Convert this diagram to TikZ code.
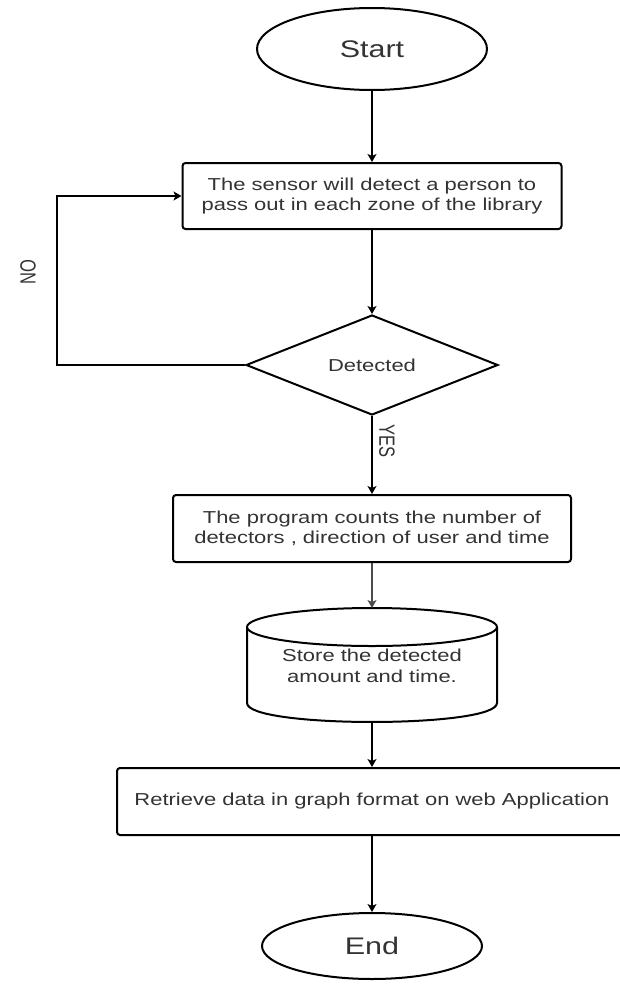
\documentclass[tikz,border=0pt]{standalone}
\usepackage{fontspec}
\setmainfont{Liberation Sans}[FakeStretch=1.27]
\newfontfamily\rotfont{Liberation Sans}[FakeStretch=0.75]
\usetikzlibrary{shapes.geometric,arrows.meta}
\definecolor{txt}{HTML}{333333}
\begin{document}
\begin{tikzpicture}[x=1pt,y=-1pt,
  shapeline/.style={draw=black,line width=2pt},
  procbox/.style={shapeline,rectangle,rounded corners=3pt,align=center,text=txt,
    font=\fontsize{17.3}{20.5}\selectfont,inner sep=0pt},
  term/.style={shapeline,ellipse,inner sep=0pt,text=txt,font=\fontsize{24}{28}\selectfont},
  flow/.style={line width=1.2pt,-{Stealth[length=8pt,width=9pt,inset=2pt]}},
  lab/.style={text=txt,inner sep=0pt,font=\rotfont\fontsize{22}{24}\selectfont}
]
\useasboundingbox (0,0) rectangle (619,990);
\fill[white] (0,0) rectangle (619,990);

\node[term,minimum width=230pt,minimum height=82pt] (start) at (372,49) {Start};
\node[procbox,minimum width=379pt,minimum height=66pt] (b1) at (372,196)
  {The sensor will detect a person to\\pass out in each zone of the library};
\node[shapeline,diamond,aspect=2.52,minimum width=252pt,minimum height=100pt,inner sep=0pt,
  text=txt,font=\fontsize{17.3}{20.5}\selectfont] (dec) at (372,365) {Detected};
\node[procbox,minimum width=398pt,minimum height=67pt] (b2) at (372,528.5)
  {The program counts the number of\\detectors , direction of user and time};

% cylinder (data store)
\fill[white] (247,627) -- (247,703) .. controls (247,728.3) and (497,728.3) .. (497,703) -- (497,627) -- cycle;
\draw[shapeline] (247,627) -- (247,703) .. controls (247,728.3) and (497,728.3) .. (497,703) -- (497,627);
\draw[shapeline,fill=white] (372,627) ellipse [x radius=125,y radius=19];
\coordinate (cyltop) at (372,608);
\coordinate (cylbot) at (372,722);
\node[align=center,text=txt,inner sep=0pt,font=\fontsize{17.3}{20.5}\selectfont] (cyl) at (372,666)
  {Store the detected\\amount and time.};

\node[procbox,minimum width=510pt,minimum height=67pt] (b3) at (372,801.5)
  {Retrieve data in graph format on web Application};
\node[term,minimum width=220pt,minimum height=66pt] (end) at (372,946) {End};

\draw[flow] (start.south) -- (b1.north);
\draw[flow] (b1.south) -- (dec.north);
\draw[flow] (dec.south) -- (b2.north);
\draw[flow] (dec.west) -- ++(-188,0) |- (b1.west);
\draw[flow,draw=black!70,fill=black!70] (b2.south) -- (cyltop);
\draw[flow] (cylbot) -- (b3.north);
\draw[flow] (b3.south) -- (end.north);

\node[lab,rotate=90] (nolab) at (28,272) {NO};
\node[lab,rotate=-90] (yeslab) at (387,441) {YES};
\end{tikzpicture}
\end{document}
